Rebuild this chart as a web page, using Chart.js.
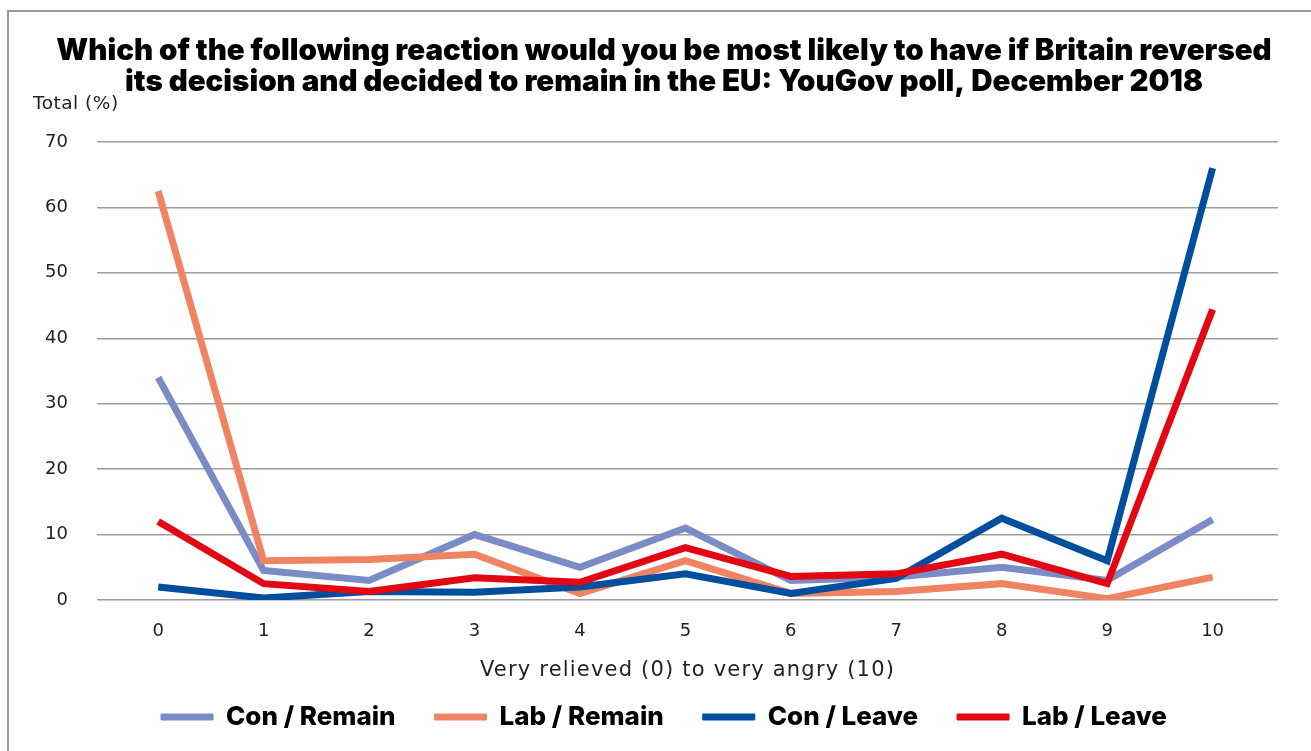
<!DOCTYPE html>
<html>
<head>
<meta charset="utf-8">
<script src="https://cdn.jsdelivr.net/npm/chart.js@4/dist/chart.umd.min.js"></script>
<style>
  html, body { margin: 0; padding: 0; background: #fff; overflow: hidden; }
  #frame { position: absolute; left: 7px; top: 10px; width: 1320px; height: 760px; border-left: 2px solid #9a9a9a; border-top: 2px solid #9a9a9a; }
  #wrap { position: absolute; left: 0; top: 0; width: 1311px; height: 751px; }
</style>
</head>
<body>
<div id="frame"></div>
<div id="wrap"><canvas id="chart" width="1311" height="751"></canvas></div>
<script>
// Scale points 0 (very relieved) to 10 (very angry)
const categories = [0, 1, 2, 3, 4, 5, 6, 7, 8, 9, 10];

// Share of each group (%) choosing each point
const conRemain = [34, 4.5, 3, 10, 5, 11, 3, 3.5, 5, 3, 12.3];
const labRemain = [62.5, 6, 6.2, 7, 1, 6, 1, 1.3, 2.5, 0.2, 3.5];
const conLeave  = [2, 0.3, 1.3, 1.2, 2, 4, 1, 3.3, 12.5, 6, 66];
const labLeave  = [12, 2.5, 1.3, 3.4, 2.7, 8, 3.6, 4, 7, 2.5, 44.4];

const seriesNames = ['Con / Remain', 'Lab / Remain', 'Con / Leave', 'Lab / Leave'];
const seriesColors = ['#7a8cc6', '#f08462', '#004f9e', '#e30613'];
const yTicks = [0, 10, 20, 30, 40, 50, 60, 70];

const titleLines = [
  'Which of the following reaction would you be most likely to have if Britain reversed',
  'its decision and decided to remain in the EU: YouGov poll, December 2018'
];
const xCaption = 'Very relieved (0) to very angry (10)';
const yCaption = 'Total (%)';

const toPoints = vals => vals.map((v, i) => ({ x: categories[i], y: v }));

function series(label, vals, color, order) {
  return {
    label: label,
    data: toPoints(vals),
    borderColor: color,
    backgroundColor: color,
    borderWidth: 7,
    borderCapStyle: 'butt',
    pointRadius: 0,
    pointHoverRadius: 0,
    tension: 0,
    fill: false,
    order: order
  };
}

// Axis captions, drawn with a little letter spacing
const axisCaptions = {
  id: 'axisCaptions',
  afterLayout(chart) {
    // let the value labels use the space to the left of the axis box
    const y = chart.scales.y;
    y.width = y.right;
    y.left = 0;
  },
  afterDraw(chart) {
    const { ctx, chartArea } = chart;
    ctx.save();
    ctx.fillStyle = '#222';
    ctx.textBaseline = 'middle';
    ctx.letterSpacing = '0.5px';
    ctx.font = '400 18.5px "DejaVu Sans", sans-serif';
    ctx.textAlign = 'left';
    ctx.fillText(yCaption, chartArea.left - 64, chartArea.top - 38);
    ctx.letterSpacing = '1.2px';
    ctx.font = '400 21px "DejaVu Sans", sans-serif';
    ctx.textAlign = 'center';
    ctx.fillText(xCaption, (chartArea.left + chartArea.right) / 2, chartArea.bottom + 71);
    ctx.restore();
  }
};

new Chart(document.getElementById('chart'), {
  type: 'line',
  data: {
    datasets: [
      series(seriesNames[0], conRemain, seriesColors[0], 4),
      series(seriesNames[1], labRemain, seriesColors[1], 3),
      series(seriesNames[2], conLeave,  seriesColors[2], 2),
      series(seriesNames[3], labLeave,  seriesColors[3], 1)
    ]
  },
  options: {
    responsive: false,
    animation: false,
    layout: { padding: { left: 50, right: 33, top: 0, bottom: 11 } },
    plugins: {
      tooltip: { enabled: false },
      title: {
        display: true,
        text: titleLines,
        color: '#000',
        font: { family: 'Inter', weight: '900', size: 29.5, lineHeight: 1.05 },
        padding: { top: 36, bottom: 44 }
      },
      legend: {
        position: 'bottom',
        labels: {
          boxWidth: 52,
          boxHeight: 6,
          padding: 39,
          color: '#000',
          font: { family: 'Inter', weight: '800', size: 26 },
          sort: (a, b) => a.datasetIndex - b.datasetIndex,
          generateLabels: chart =>
            Chart.defaults.plugins.legend.labels.generateLabels(chart)
              .map(item => Object.assign(item, {
                lineWidth: 1,
                lineCap: 'butt',
                lineJoin: 'miter',
                strokeStyle: item.fillStyle
              }))
        }
      }
    },
    scales: {
      x: {
        type: 'linear',
        min: -0.58,
        max: 10.62,
        afterBuildTicks: scale => { scale.ticks = categories.map(v => ({ value: v })); },
        afterFit: scale => { scale.height = 65; },
        grid: { display: false },
        border: { display: false },
        ticks: {
          color: '#222',
          font: { family: 'DejaVu Sans', size: 18 },
          padding: 13,
          maxRotation: 0,
          autoSkip: false
        }
      },
      y: {
        min: 0,
        max: 70,
        afterBuildTicks: scale => { scale.ticks = yTicks.map(v => ({ value: v })); },
        afterFit: scale => { scale.width = 47; },
        grid: { color: '#9c9c9c', lineWidth: 1.5, drawTicks: false },
        border: { display: false },
        ticks: {
          color: '#222',
          font: { family: 'DejaVu Sans', size: 18 },
          padding: 29
        }
      }
    }
  },
  plugins: [axisCaptions]
});
</script>
</body>
</html>
